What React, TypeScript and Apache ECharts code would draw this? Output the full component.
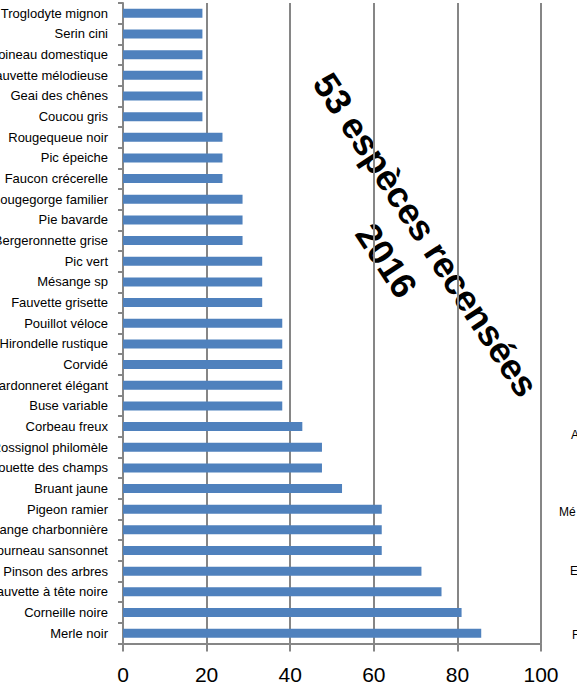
import React, { useEffect, useRef } from "react";
import * as echarts from "echarts";

// categories listed bottom to top
const categories: string[] = [
  "Merle noir",
  "Corneille noire",
  "Fauvette à tête noire",
  "Pinson des arbres",
  "Étourneau sansonnet",
  "Mésange charbonnière",
  "Pigeon ramier",
  "Bruant jaune",
  "Alouette des champs",
  "Rossignol philomèle",
  "Corbeau freux",
  "Buse variable",
  "Chardonneret élégant",
  "Corvidé",
  "Hirondelle rustique",
  "Pouillot véloce",
  "Fauvette grisette",
  "Mésange sp",
  "Pic vert",
  "Bergeronnette grise",
  "Pie bavarde",
  "Rougegorge familier",
  "Faucon crécerelle",
  "Pic épeiche",
  "Rougequeue noir",
  "Coucou gris",
  "Geai des chênes",
  "Fauvette mélodieuse",
  "Moineau domestique",
  "Serin cini",
  "Troglodyte mignon",
];

const values: number[] = [
  85.7, 81.0, 76.2, 71.4, 61.9, 61.9, 61.9, 52.4, 47.6, 47.6, 42.9, 38.1, 38.1,
  38.1, 38.1, 38.1, 33.3, 33.3, 33.3, 28.6, 28.6, 28.6, 23.8, 23.8, 23.8, 19.0,
  19.0, 19.0, 19.0, 19.0, 19.0,
];

const xTicks: number[] = [0, 20, 40, 60, 80, 100];

const titleLines: string[] = ["53 espèces recensées", "2016"];

// fragments of the neighbouring chart's labels visible at the right edge
const sideLabels: string[] = ["A", "Mé", "E", "F"];

const FONT = "'Liberation Sans', Arial, sans-serif";
const GRAY = "#868686";

export default function App() {
  const ref = useRef<HTMLDivElement>(null);

  useEffect(() => {
    if (!ref.current) return;
    const chart = echarts.init(ref.current, undefined, { renderer: "svg" });
    const sidePos = [
      { x: 571, y: 435 },
      { x: 559, y: 512 },
      { x: 570, y: 571 },
      { x: 572, y: 635 },
    ];
    chart.setOption({
      animation: false,
      backgroundColor: "#ffffff",
      textStyle: { fontFamily: FONT },
      grid: {
        left: 123,
        right: 36,
        top: 3,
        bottom: 40.5,
        containLabel: false,
        outerBoundsMode: "none",
      },
      xAxis: {
        type: "value",
        min: xTicks[0],
        max: xTicks[xTicks.length - 1],
        interval: 20,
        axisLine: { show: true, lineStyle: { color: GRAY, width: 2 } },
        axisTick: { show: true, length: 8, lineStyle: { color: GRAY, width: 2 } },
        axisLabel: { fontSize: 21, color: "#000", margin: 20, fontFamily: FONT },
        splitLine: { show: true, lineStyle: { color: GRAY, width: 2 } },
      },
      yAxis: {
        type: "category",
        data: categories,
        axisLine: { show: true, lineStyle: { color: GRAY, width: 2 } },
        axisTick: { show: true, length: 5, lineStyle: { color: GRAY, width: 2 } },
        axisLabel: { fontSize: 13, color: "#000", margin: 15, fontFamily: FONT },
        splitLine: { show: false },
      },
      series: [
        {
          type: "bar",
          data: values,
          barWidth: 9,
          itemStyle: { color: "#4F81BD" },
          z: 2,
        },
      ],
      graphic: [
        {
          type: "group",
          x: 404,
          y: 249,
          rotation: -0.9896,
          z: 100,
          children: [
            {
              type: "rect",
              shape: { x: -254, y: -60.5, width: 508, height: 121 },
              style: { fill: "#ffffff" },
            },
            {
              type: "text",
              x: 0,
              y: -2.5,
              style: {
                text: titleLines.join("\n"),
                align: "center",
                verticalAlign: "middle",
                fontFamily: FONT,
                fontWeight: "bold",
                fontSize: 36,
                lineHeight: 47,
                fill: "#000",
              },
            },
          ],
        },
        ...sideLabels.map((t, i) => ({
          type: "text",
          x: sidePos[i].x,
          y: sidePos[i].y,
          z: 200,
          style: {
            text: t,
            align: "left",
            verticalAlign: "middle",
            fontFamily: FONT,
            fontSize: 12,
            fill: "#000",
          },
        })),
      ],
    });
    return () => chart.dispose();
  }, []);

  return (
    <div
      ref={ref}
      style={{ position: "absolute", left: 0, top: 0, width: 577, height: 684 }}
    />
  );
}
